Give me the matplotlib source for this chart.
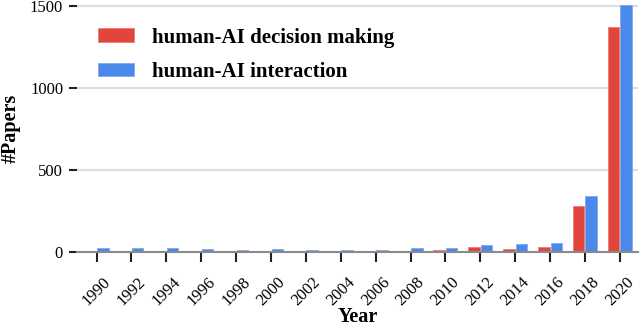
import numpy as np
import matplotlib
matplotlib.use('Agg')
import matplotlib.pyplot as plt

# データ（2年ごと）
years = [1990, 1992, 1994, 1996, 1998, 2000, 2002, 2004,
         2006, 2008, 2010, 2012, 2014, 2016, 2018, 2020]
decision = [0, 0, 0, 0, 0, 0, 0, 0, 0, 0, 10, 31, 21, 31, 278, 1368]
interaction = [24, 24, 24, 20, 14, 20, 14, 15, 10, 27, 27, 45, 48, 57, 341, 1505]
labels = ['human-AI decision making', 'human-AI interaction']

plt.rcParams['font.family'] = ['Liberation Serif', 'DejaVu Serif']

red = '#e2453b'
blue = '#4a88ea'

fig = plt.figure(figsize=(6.4, 3.27), dpi=100)
ax = fig.add_axes([77 / 640, 75 / 327, 561 / 640, 248 / 327])

x = np.arange(len(years))
w = 0.33
ax.bar(x - 0.18, decision, w, color=red, edgecolor='#ee7a70', linewidth=0.6,
       label=labels[0], zorder=3)
ax.bar(x + 0.18, interaction, w, color=blue, edgecolor='#7eaaf0', linewidth=0.6,
       label=labels[1], zorder=3)

ax.set_xlim(-0.56, 15.52)
ax.set_ylim(0, 1510)
ax.set_yticks([0, 500, 1000, 1500])
ax.set_xticks(x)
ax.set_xticklabels([str(y) for y in years], rotation=45, ha='center')

ax.grid(axis='y', color='#dcdee3', linewidth=1.5, zorder=0)
for s in ['top', 'right', 'left']:
    ax.spines[s].set_visible(False)
ax.spines['bottom'].set_color('#8a8a8a')
ax.spines['bottom'].set_linewidth(1.5)
ax.spines['bottom'].set_zorder(4)

ax.tick_params(axis='y', length=6, width=1.5, color='#222222', labelsize=12, pad=4)
ax.tick_params(axis='x', length=7, width=1.5, color='#222222', labelsize=12, pad=9)

ax.set_ylabel('#Papers', fontsize=14.5, fontweight='bold')
ax.set_xlabel('Year', fontsize=14.5, fontweight='bold')
ax.yaxis.set_label_coords(-0.10, 0.5)
ax.xaxis.set_label_coords(0.5, -0.222)

ax.legend(loc='upper left', bbox_to_anchor=(0.037, 0.905), frameon=False,
          prop={'weight': 'bold', 'size': 15}, borderpad=0, borderaxespad=0,
          handlelength=1.75, handleheight=0.62, handletextpad=0.87,
          labelspacing=0.68)

fig.patch.set_facecolor('white')
fig.savefig('out.png', dpi=100)
